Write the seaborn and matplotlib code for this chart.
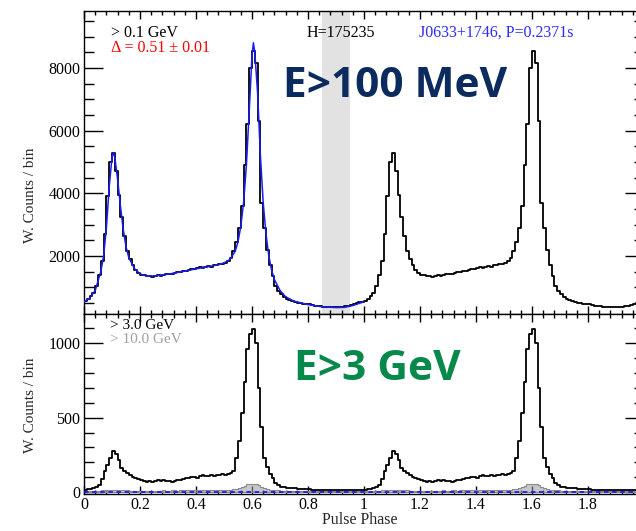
import numpy as np
import pandas as pd
import matplotlib
matplotlib.use("Agg")
import matplotlib.pyplot as plt
from matplotlib.ticker import MultipleLocator, FuncFormatter
import seaborn as sns

# ---- light-curve data: weighted counts per 0.01 phase bin, one rotation ----
bin_width = 0.01
counts_100mev = [
    560, 620, 720, 820, 1050, 1400, 1850, 2700, 3900, 5000,
    5300, 4700, 3950, 3250, 2650, 2150, 1900, 1700, 1560, 1470,
    1400, 1380, 1350, 1370, 1340, 1360, 1390, 1370, 1400, 1420,
    1440, 1410, 1460, 1490, 1500, 1520, 1530, 1550, 1570, 1590,
    1610, 1640, 1620, 1650, 1680, 1660, 1700, 1720, 1740, 1760,
    1790, 1850, 1950, 2150, 2450, 2900, 3600, 4900, 6200, 8000,
    8550, 8150, 6300, 3700, 2900, 2200, 1700, 1350, 1050, 880,
    780, 700, 640, 590, 560, 530, 510, 495, 480, 470,
    455, 440, 420, 400, 390, 385, 375, 370, 365, 362,
    365, 370, 380, 390, 405, 425, 455, 490, 520, 545,
]
counts_3gev = [
    18, 20, 22, 26, 35, 50, 90, 140, 180, 230,
    275, 255, 215, 160, 140, 130, 118, 105, 95, 88,
    80, 74, 68, 72, 66, 78, 82, 76, 80, 78,
    72, 70, 78, 82, 80, 90, 95, 92, 100, 104,
    98, 106, 112, 108, 110, 115, 110, 118, 114, 120,
    118, 122, 128, 145, 230, 340, 530, 740, 960, 1060,
    1095, 1000, 700, 440, 230, 170, 125, 95, 62, 48,
    38, 33, 30, 28, 27, 26, 24, 22, 24, 20,
    19, 18, 17, 16, 15, 16, 14, 15, 13, 14,
    15, 14, 16, 15, 16, 17, 16, 18, 17, 18,
]
counts_10gev = [
    8, 8, 9, 9, 10, 11, 12, 14, 15, 16,
    17, 16, 15, 13, 12, 12, 11, 11, 10, 11,
    10, 10, 11, 10, 11, 10, 11, 11, 12, 11,
    11, 12, 12, 11, 12, 13, 12, 12, 13, 13,
    12, 13, 14, 13, 14, 14, 15, 14, 15, 16,
    16, 17, 18, 20, 24, 30, 36, 44, 52, 57,
    58, 53, 45, 36, 28, 22, 18, 15, 13, 12,
    11, 11, 10, 10, 10, 9, 9, 9, 9, 9,
    8, 8, 8, 8, 8, 8, 8, 8, 8, 8,
    8, 8, 8, 8, 8, 8, 8, 8, 8, 8,
]

# two-peak pulse-profile model fitted to the >0.1 GeV profile
fit_phase = [0.00, 0.02, 0.04, 0.06, 0.07, 0.08, 0.09, 0.10, 0.105, 0.11,
             0.12, 0.13, 0.14, 0.15, 0.16, 0.18, 0.20, 0.22, 0.24, 0.26,
             0.30, 0.35, 0.40, 0.45, 0.48, 0.50, 0.52, 0.54, 0.55, 0.56,
             0.57, 0.58, 0.59, 0.60, 0.605, 0.61, 0.62, 0.63, 0.64, 0.65,
             0.66, 0.67, 0.68, 0.70, 0.72, 0.75, 0.80, 0.85, 0.90, 0.93,
             0.96, 0.98, 1.00]
fit_counts = [540, 650, 900, 1500, 2000, 2900, 4200, 5150, 5300, 5150,
              4450, 3600, 2850, 2300, 1950, 1600, 1430, 1370, 1360, 1370,
              1420, 1500, 1590, 1670, 1720, 1780, 1880, 2150, 2450, 2950,
              3700, 4900, 6600, 8400, 8800, 8500, 7200, 5200, 3700, 2700,
              2000, 1550, 1250, 900, 700, 560, 450, 380, 355, 360,
              420, 480, 540]

background_3gev = 0.0
offpulse = (0.85, 0.95)
x_major = [0, 0.2, 0.4, 0.6, 0.8, 1.0, 1.2, 1.4, 1.6, 1.8]

# ---- two rotations for display ----
n_bins = len(counts_100mev)
centers = np.arange(n_bins) * bin_width + bin_width / 2
edges = [round(i * bin_width, 4) for i in range(2 * n_bins + 1)]
profile = pd.DataFrame({
    "phase": np.concatenate([centers, centers + 1.0]),
    "c100": counts_100mev * 2,
    "c3": counts_3gev * 2,
    "c10": counts_10gev * 2,
})

sns.set_theme(style="ticks")
plt.rcParams["font.family"] = ["Liberation Serif", "DejaVu Sans"]
plt.rcParams["axes.linewidth"] = 1.0

W, H = 636, 531
fig = plt.figure(figsize=(W / 100, H / 100), dpi=100)


def fx(x):
    return x / W


def fy(y):
    return 1 - y / H


left = fx(84)
width = 560 / W
ax_top = fig.add_axes([left, fy(314), width, fy(11) - fy(314)])
ax_bot = fig.add_axes([left, fy(494), width, fy(314) - fy(494)])

# upper panel: > 0.1 GeV
ax_top.axvspan(*offpulse, color="#e2e2e2", lw=0, zorder=0)
sns.histplot(data=profile, x="phase", weights="c100", bins=edges,
             element="step", fill=False, color="black", linewidth=1.3,
             ax=ax_top, zorder=2)
sns.lineplot(x=fit_phase, y=fit_counts, color="#1a1aff", linewidth=1.1,
             ax=ax_top, zorder=3)
ax_top.set_xlim(0, 2)
ax_top.set_ylim(150, 9815)
ax_top.yaxis.set_major_locator(MultipleLocator(2000))
ax_top.yaxis.set_minor_locator(MultipleLocator(500))

# lower panel: > 3 GeV and > 10 GeV
sns.histplot(data=profile, x="phase", weights="c10", bins=edges,
             element="step", fill=True, color="#9a9a9a", alpha=0.55,
             linewidth=0.8, edgecolor="#8a8a8a", ax=ax_bot, zorder=1)
sns.histplot(data=profile, x="phase", weights="c3", bins=edges,
             element="step", fill=False, color="black", linewidth=1.3,
             ax=ax_bot, zorder=2)
ax_bot.axhline(background_3gev, color="#1a1aff", linestyle=(0, (2.5, 2)),
               linewidth=1.3, zorder=3)
ax_bot.set_xlim(0, 2)
ax_bot.set_ylim(-12, 1194)
ax_bot.yaxis.set_major_locator(MultipleLocator(500))
ax_bot.yaxis.set_minor_locator(MultipleLocator(100))

for ax in (ax_top, ax_bot):
    ax.set_xlabel("")
    ax.set_ylabel("")
    ax.set_xticks(x_major)
    ax.xaxis.set_minor_locator(MultipleLocator(0.04))
    ax.tick_params(which="both", direction="in", top=True, right=True,
                   width=1.0, colors="black", labelsize=11.5, pad=2.5)
    ax.tick_params(axis="y", which="major", length=14)
    ax.tick_params(axis="y", which="minor", length=7)
    ax.tick_params(axis="x", which="major", length=5.5)
    ax.tick_params(axis="x", which="minor", length=3)
    for s in ax.spines.values():
        s.set_color("black")
        s.set_linewidth(1.0)

ax_top.tick_params(labelbottom=False)
ax_bot.xaxis.set_major_formatter(FuncFormatter(lambda v, p: f"{v:g}"))

# axis titles
fig.text(fx(30), fy(195), "W. Counts / bin", rotation=90, ha="center",
         va="center", fontsize=11)
fig.text(fx(30), fy(405), "W. Counts / bin", rotation=90, ha="center",
         va="center", fontsize=11)
fig.text(fx(360), fy(520), "Pulse Phase", ha="center", va="center",
         fontsize=11.5)

# annotations
fig.text(fx(111), fy(37), "> 0.1 GeV", fontsize=11.5, color="black")
fig.text(fx(111), fy(52), "\u0394 = 0.51 \u00b1 0.01", fontsize=11.5,
         color="red")
fig.text(fx(307), fy(37), "H=175235", fontsize=11.5, color="black")
fig.text(fx(419), fy(37), "J0633+1746, P=0.2371s", fontsize=11.5,
         color="#2b2bff")
fig.text(fx(110), fy(329), "> 3.0 GeV", fontsize=11, color="black")
fig.text(fx(110), fy(343), "> 10.0 GeV", fontsize=11, color="#a0a0a0")

fig.text(fx(283), fy(97), "E>100 MeV", fontsize=30.5, fontweight="bold",
         family=["Open Sans", "DejaVu Sans"], color="#0b2a5e")
fig.text(fx(294), fy(380), "E>3 GeV", fontsize=30.5, fontweight="bold",
         family=["Open Sans", "DejaVu Sans"], color="#06894b")

fig.savefig("out.png", dpi=100)
